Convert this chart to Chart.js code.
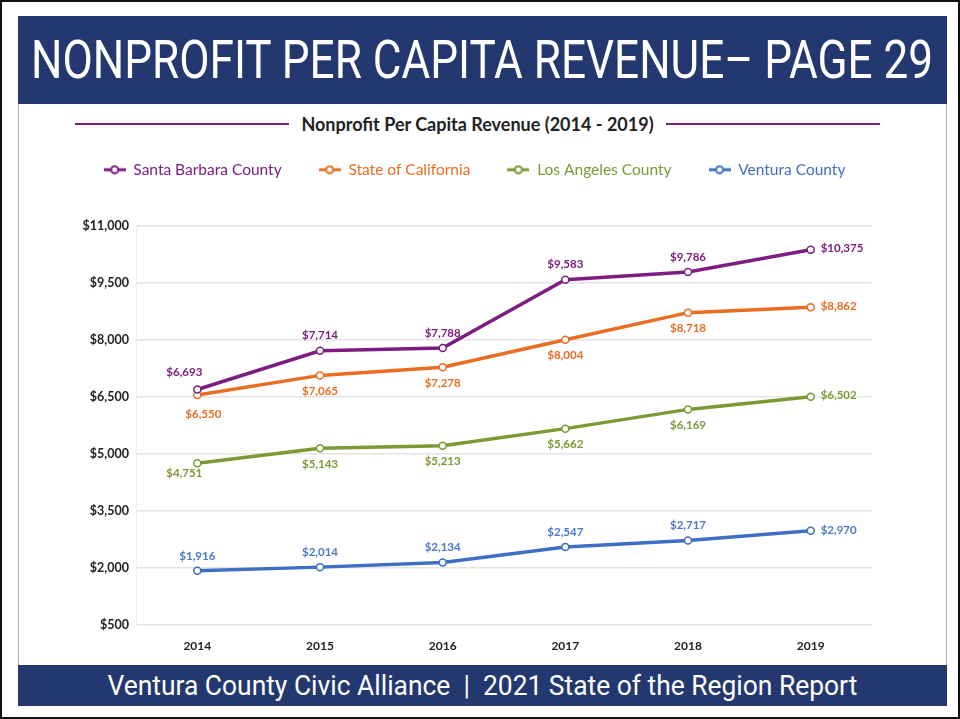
<!DOCTYPE html>
<html>
<head>
<meta charset="utf-8">
<script src="https://cdn.jsdelivr.net/npm/chart.js@4"></script>
<style>
  body { margin: 0; width: 960px; height: 719px; background: #fff; font-family: Lato, sans-serif; }
  .page { position: absolute; left: 0; top: 0; width: 960px; height: 719px; border: 2px solid #111; box-sizing: border-box; }
  .frame { position: absolute; left: 18px; top: 16px; width: 929px; height: 690px; border: 1px solid #a9b0bb; box-sizing: border-box; }
  .banner { position: absolute; left: 18px; top: 16px; width: 929px; height: 88px; background: #23386f; color: #fff;
    display: flex; align-items: center; justify-content: center; overflow: hidden; }
  .banner span { font-family: Roboto, sans-serif; font-size: 53px; white-space: nowrap; display: inline-block; }
  .footer { position: absolute; left: 18px; top: 665px; width: 929px; height: 41px; background: #23386f; color: #fff;
    display: flex; align-items: center; justify-content: center; overflow: hidden; }
  .footer span { font-family: Roboto, sans-serif; font-size: 27px; white-space: nowrap; display: inline-block; }
  .subtitle { position: absolute; left: 75px; top: 114px; width: 805px; height: 20px; display: flex; align-items: center; }
  .subtitle .rule { flex: 1; height: 2px; background: #7d1d80; }
  .subtitle .text { padding: 0 12px; font-weight: bold; font-size: 18px; color: #222; white-space: nowrap; }
  .chart-box { position: absolute; left: 19px; top: 104px; width: 927px; height: 561px; }
</style>
</head>
<body>
<div class="page"></div>
<div class="frame"></div>
<div class="banner"><span id="bannerText">NONPROFIT PER CAPITA REVENUE– PAGE 29</span></div>
<div class="subtitle"><div class="rule"></div><div class="text">Nonprofit Per Capita Revenue (2014 - 2019)</div><div class="rule"></div></div>
<div class="chart-box"><canvas id="revenueChart" width="927" height="561"></canvas></div>
<div class="footer"><span id="footerText">Ventura County Civic Alliance &nbsp;|&nbsp; 2021 State of the Region Report</span></div>

<script>
// Chart data
const years = ['2014', '2015', '2016', '2017', '2018', '2019'];
const seriesNames = ['Santa Barbara County', 'State of California', 'Los Angeles County', 'Ventura County'];
const santaBarbara = [6693, 7714, 7788, 9583, 9786, 10375];
const california = [6550, 7065, 7278, 8004, 8718, 8862];
const losAngeles = [4751, 5143, 5213, 5662, 6169, 6502];
const ventura = [1916, 2014, 2134, 2547, 2717, 2970];
const yTicks = [500, 2000, 3500, 5000, 6500, 8000, 9500, 11000];

const colors = ['#7d1d80', '#ea6d22', '#7c9a34', '#3f6fc4'];
const labelColors = ['#7d1d80', '#ea6d22', '#7c9a34', '#4a78c8'];

// where each value label sits relative to its point
const labelPlacement = [
  ['aboveLeft', 'above', 'above', 'above', 'above', 'right'],
  ['belowRight', 'below', 'below', 'below', 'below', 'right'],
  ['belowLeft', 'below', 'below', 'below', 'below', 'right'],
  ['above', 'above', 'above', 'above', 'above', 'right']
];

// squeeze the banner texts to the condensed width of the original
function fitWidth(id, target) {
  const el = document.getElementById(id);
  el.style.transform = 'scaleX(' + (target / el.offsetWidth) + ')';
}
fitWidth('bannerText', 902);
fitWidth('footerText', 750);

function fmt(v) {
  return '$' + v.toLocaleString('en-US');
}

// Legend icons: line with an open circle
function makeIcon(color) {
  const c = document.createElement('canvas');
  c.width = 22;
  c.height = 10;
  const ctx = c.getContext('2d');
  ctx.strokeStyle = color;
  ctx.lineWidth = 3;
  ctx.beginPath();
  ctx.moveTo(0, 5);
  ctx.lineTo(22, 5);
  ctx.stroke();
  ctx.beginPath();
  ctx.arc(11, 5, 3.5, 0, Math.PI * 2);
  ctx.fillStyle = '#fff';
  ctx.fill();
  ctx.lineWidth = 2;
  ctx.stroke();
  return c;
}
const icons = colors.map(makeIcon);

// Value labels
const valueLabels = {
  id: 'valueLabels',
  afterDatasetsDraw(chart) {
    const ctx = chart.ctx;
    ctx.save();
    ctx.font = 'bold 11.5px Lato, sans-serif';
    chart.data.datasets.forEach((ds, i) => {
      const meta = chart.getDatasetMeta(i);
      meta.data.forEach((pt, j) => {
        const pos = labelPlacement[i][j];
        let x = pt.x, y = pt.y;
        ctx.textAlign = 'center';
        ctx.textBaseline = 'middle';
        if (pos === 'above') { y -= 15; }
        else if (pos === 'below') { y += 16; }
        else if (pos === 'aboveLeft') { x -= 13; y -= 17; }
        else if (pos === 'belowRight') { x += 6; y += 19; }
        else if (pos === 'belowLeft') { x -= 13; y += 10; }
        else if (pos === 'right') { x += 10; y -= 1; ctx.textAlign = 'left'; }
        ctx.fillStyle = labelColors[i];
        ctx.fillText(fmt(ds.data[j]), x, y);
      });
    });
    ctx.restore();
  }
};

// Fixed legend height so the plot lands where it should,
// and the legend row nudged right like in the original
const legendLayout = {
  id: 'legendLayout',
  afterInit(chart) {
    const legend = chart.legend;
    const fit = legend.fit;
    legend.fit = function() {
      fit.bind(legend)();
      this.height = 101;
    };
  },
  afterLayout(chart) {
    chart.legend.left += 29;
    chart.legend.right += 29;
  }
};

const datasets = [santaBarbara, california, losAngeles, ventura].map((vals, i) => ({
  label: seriesNames[i],
  data: vals,
  borderColor: colors[i],
  backgroundColor: '#fff',
  borderWidth: 3.5,
  pointRadius: 3.5,
  pointBorderWidth: 1.5,
  pointBackgroundColor: '#fff',
  pointBorderColor: colors[i],
  tension: 0
}));

new Chart(document.getElementById('revenueChart').getContext('2d'), {
  type: 'line',
  data: { labels: years, datasets: datasets },
  options: {
    responsive: false,
    animation: false,
    layout: { padding: { left: 0, right: 74, top: 21, bottom: 6 } },
    plugins: {
      legend: {
        position: 'top',
        labels: {
          usePointStyle: true,
          pointStyleWidth: 22,
          padding: 37,
          font: { family: 'Lato, sans-serif', size: 15.5 },
          generateLabels(chart) {
            const items = Chart.defaults.plugins.legend.labels.generateLabels(chart);
            items.forEach((it, i) => {
              it.pointStyle = icons[i];
              it.fontColor = colors[i];
            });
            return items;
          }
        }
      },
      tooltip: { enabled: false }
    },
    scales: {
      x: {
        offset: true,
        grid: { display: false },
        border: { display: false },
        ticks: { color: '#222', font: { family: 'Lato, sans-serif', size: 12, weight: 'bold' }, padding: 6 }
      },
      y: {
        min: 500,
        max: 11000,
        afterFit(scale) { scale.width = 117; },
        afterBuildTicks(scale) { scale.ticks = yTicks.map(v => ({ value: v })); },
        grid: { color: '#e4e4e4', lineWidth: 1.5, drawTicks: false },
        border: { display: true, color: '#f0f0f0' },
        ticks: {
          color: '#222',
          padding: 7,
          font: { family: 'Lato, sans-serif', size: 12.5, weight: 'bold' },
          callback: function(value) { return fmt(value); }
        }
      }
    }
  },
  plugins: [valueLabels, legendLayout]
});
</script>
</body>
</html>
